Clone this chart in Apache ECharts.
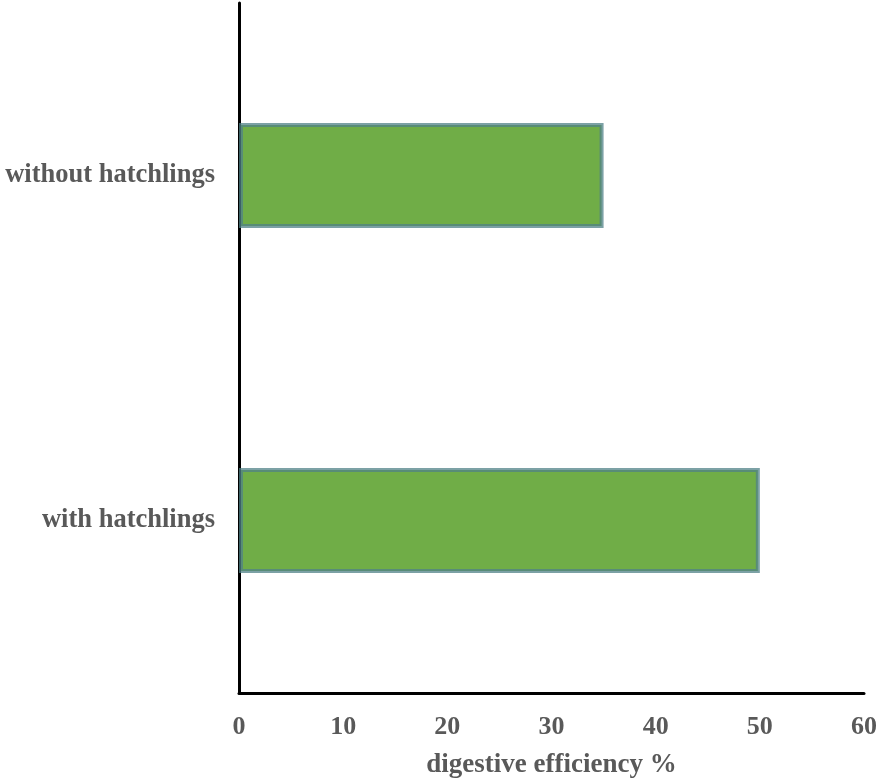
<!DOCTYPE html>
<html>
<head>
<meta charset="utf-8">
<script src="https://cdn.jsdelivr.net/npm/echarts@6/dist/echarts.min.js"></script>
<style>html,body{margin:0;padding:0;background:#fff}#c{width:880px;height:780px}</style>
</head>
<body>
<div id="c"></div>
<script>
const categories = ['with hatchlings', 'without hatchlings'];
const values = [50, 35];
const xTicks = [0, 10, 20, 30, 40, 50, 60];

const chart = echarts.init(document.getElementById('c'));
const font = '"Liberation Serif", "Times New Roman", serif';
chart.setOption({
  animation: false,
  grid: { left: 239, right: 16, top: 3, bottom: 87, containLabel: false, outerBoundsMode: 'none' },
  xAxis: {
    type: 'value', min: xTicks[0], max: xTicks[xTicks.length - 1], interval: 10,
    name: 'digestive efficiency %', nameLocation: 'middle', nameGap: 59,
    nameTextStyle: { fontFamily: font, fontWeight: 'bold', fontSize: 27, color: '#595959' },
    axisLine: { show: true, lineStyle: { color: '#000', width: 3 } },
    axisTick: { show: false },
    splitLine: { show: false },
    axisLabel: { margin: 21, fontFamily: font, fontWeight: 'bold', fontSize: 26, color: '#595959' }
  },
  yAxis: {
    type: 'category', data: categories,
    axisLine: { show: true, lineStyle: { color: '#000', width: 3 } },
    axisTick: { show: false },
    axisLabel: { margin: 24, fontFamily: font, fontWeight: 'bold', fontSize: 26.5, color: '#595959' }
  },
  series: [{
    type: 'bar', data: values, barWidth: 105,
    itemStyle: { color: '#70AD47', borderColor: 'rgba(80,130,135,0.75)', borderWidth: 4 }
  }]
});
</script>
</body>
</html>
